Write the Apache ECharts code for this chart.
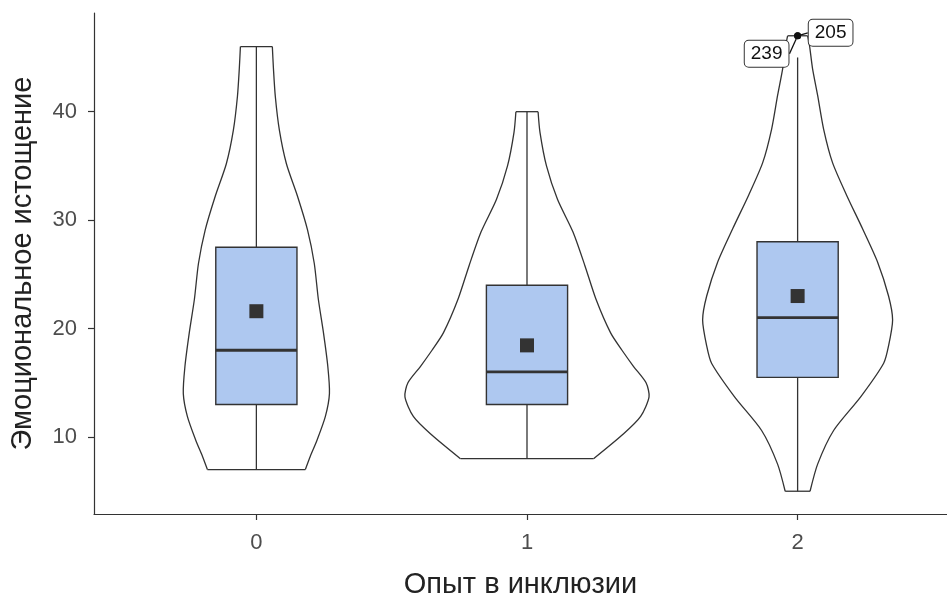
<!DOCTYPE html>
<html>
<head>
<meta charset="utf-8">
<script src="https://cdn.jsdelivr.net/npm/echarts@6/dist/echarts.min.js"></script>
<style>
  html, body { margin: 0; padding: 0; background: #fff; }
  #chart { width: 947px; height: 597px; }
</style>
</head>
<body>
<div id="chart"></div>
<script>
// группы и подписи
var categories = ['0', '1', '2'];
var xTicks = [0, 1, 2];
var yTicks = [10, 20, 30, 40];

// контур скрипок: значения по оси Y и полуширина (в долях шага категории)
var violinY0 = [7.0, 8.2, 9.7, 11.9, 14.0, 16.5, 19.6, 22.7, 26.0, 29.1, 32.2, 35.2, 38.3, 41.4, 44.0, 46.0];
var violinW0 = [0.181, 0.199, 0.224, 0.255, 0.270, 0.264, 0.248, 0.229, 0.214, 0.189, 0.152, 0.111, 0.085, 0.070, 0.063, 0.059];
var violinY1 = [8.0, 10.3, 11.9, 13.7, 15.0, 16.5, 18.0, 19.6, 22.7, 25.8, 28.9, 31.9, 35.0, 38.1, 40.0];
var violinW1 = [0.246, 0.357, 0.420, 0.451, 0.440, 0.394, 0.351, 0.309, 0.255, 0.214, 0.170, 0.113, 0.072, 0.048, 0.041];
var violinY2 = [5.0, 7.5, 10.6, 13.7, 16.8, 18.4, 20.8, 23.0, 26.1, 29.2, 32.3, 35.3, 38.4, 41.5, 44.0, 46.1, 47.0];
var violinW2 = [0.046, 0.074, 0.133, 0.233, 0.318, 0.336, 0.351, 0.336, 0.296, 0.240, 0.181, 0.129, 0.096, 0.074, 0.055, 0.044, 0.037];

// ящики: [min, q1, median, q3, max]
var boxStats = [
  [7, 13, 18, 27.5, 46],
  [8, 13, 16, 24, 40],
  [5, 15.5, 21, 28, 45]
];
var means = [21.6, 18.45, 23.0];

// выбросы
var outlierGroup = [2, 2];
var outlierValues = [47, 47];
var outlierLabels = ['239', '205'];

var violinsY = [violinY0, violinY1, violinY2];
var violinsW = [violinW0, violinW1, violinW2];
var boxHalf = 0.15;
var lineColor = '#333333';
var font = "'Liberation Sans', Arial, sans-serif";

var myChart = echarts.init(document.getElementById('chart'));

function renderViolin(params, api) {
  var i = api.value(0);
  var ys = violinsY[i], ws = violinsW[i];
  var right = [], left = [];
  for (var k = 0; k < ys.length; k++) {
    right.push(api.coord([i + ws[k], ys[k]]));
    left.push(api.coord([i - ws[k], ys[k]]));
  }
  var n = ys.length - 1;
  var st = { stroke: lineColor, lineWidth: 1.3, fill: null };
  return {
    type: 'group',
    children: [
      { type: 'polyline', shape: { points: right, smooth: 0.25 }, style: st },
      { type: 'polyline', shape: { points: left, smooth: 0.25 }, style: st },
      { type: 'line', shape: { x1: left[0][0], y1: left[0][1], x2: right[0][0], y2: right[0][1] }, style: st },
      { type: 'line', shape: { x1: left[n][0], y1: left[n][1], x2: right[n][0], y2: right[n][1] }, style: st }
    ]
  };
}

function renderBox(params, api) {
  var i = api.value(0);
  var s = boxStats[i];
  var pMin = api.coord([i, s[0]]);
  var pMax = api.coord([i, s[4]]);
  var tl = api.coord([i - boxHalf, s[3]]);
  var br = api.coord([i + boxHalf, s[1]]);
  var ml = api.coord([i - boxHalf, s[2]]);
  var mr = api.coord([i + boxHalf, s[2]]);
  var st = { stroke: lineColor, lineWidth: 1.3 };
  return {
    type: 'group',
    children: [
      { type: 'line', shape: { x1: pMax[0], y1: pMax[1], x2: pMax[0], y2: tl[1] }, style: st },
      { type: 'line', shape: { x1: pMin[0], y1: pMin[1], x2: pMin[0], y2: br[1] }, style: st },
      { type: 'rect', shape: { x: tl[0], y: tl[1], width: br[0] - tl[0], height: br[1] - tl[1] },
        style: { fill: '#aec8f0', stroke: lineColor, lineWidth: 1.4 } },
      { type: 'line', shape: { x1: ml[0], y1: ml[1], x2: mr[0], y2: mr[1] }, style: { stroke: lineColor, lineWidth: 2.8 } }
    ]
  };
}

var option = {
  animation: false,
  backgroundColor: '#ffffff',
  grid: { left: 94, top: 13, right: 0, height: 501, containLabel: false, outerBoundsMode: 'none' },
  xAxis: {
    type: 'value',
    min: -0.6,
    max: 2.552,
    name: 'Опыт в инклюзии',
    nameLocation: 'middle',
    nameGap: 56,
    nameTextStyle: { fontSize: 29, color: '#222', fontFamily: font },
    axisLine: { show: true, onZero: false, lineStyle: { color: lineColor, width: 1.2 } },
    axisTick: { show: true, length: 6, customValues: xTicks, lineStyle: { color: lineColor, width: 1.2 } },
    axisLabel: {
      customValues: xTicks,
      margin: 18,
      fontSize: 22,
      color: '#4d4d4d',
      fontFamily: font,
      formatter: function (v) { return categories[Math.round(v)]; }
    },
    splitLine: { show: false }
  },
  yAxis: {
    type: 'value',
    min: 2.9,
    max: 49.1,
    name: 'Эмоциональное истощение',
    nameLocation: 'middle',
    nameGap: 57,
    nameTextStyle: { fontSize: 29, color: '#222', fontFamily: font },
    axisLine: { show: true, onZero: false, lineStyle: { color: lineColor, width: 1.2 } },
    axisTick: { show: true, length: 6, customValues: yTicks, lineStyle: { color: lineColor, width: 1.2 } },
    axisLabel: { customValues: yTicks, margin: 17, fontSize: 22, color: '#4d4d4d', fontFamily: font },
    splitLine: { show: false }
  },
  series: [
    {
      type: 'custom',
      name: 'violin',
      renderItem: renderViolin,
      data: categories.map(function (c, i) { return [i]; }),
      encode: { x: 0 },
      silent: true,
      z: 2
    },
    {
      type: 'custom',
      name: 'box',
      renderItem: renderBox,
      data: categories.map(function (c, i) { return [i]; }),
      encode: { x: 0 },
      silent: true,
      z: 3
    },
    {
      type: 'scatter',
      name: 'mean',
      symbol: 'rect',
      symbolSize: 14,
      itemStyle: { color: '#333333', opacity: 1 },
      data: means.map(function (m, i) { return [i, m]; }),
      z: 4
    },
    {
      type: 'scatter',
      name: 'outliers',
      symbol: 'circle',
      symbolSize: 7,
      itemStyle: { color: '#111', opacity: 1 },
      data: outlierValues.map(function (v, i) { return { value: [outlierGroup[i], v], name: outlierLabels[i] }; }),
      label: {
        show: true,
        position: 'inside',
        formatter: '{b}',
        fontSize: 19,
        color: '#111',
        fontFamily: font,
        backgroundColor: '#fff',
        borderColor: '#333',
        borderWidth: 1,
        borderRadius: 4,
        padding: [4, 6, 3, 6]
      },
      labelLine: { show: true, lineStyle: { color: '#111', width: 1.3 } },
      labelLayout: function (params) {
        if (params.dataIndex === 0) return { dx: -31, dy: 18 };
        return { dx: 33, dy: -3 };
      },
      z: 5
    }
  ]
};

myChart.setOption(option);
window.addEventListener('resize', function () {
  myChart.resize();
});
</script>
</body>
</html>
